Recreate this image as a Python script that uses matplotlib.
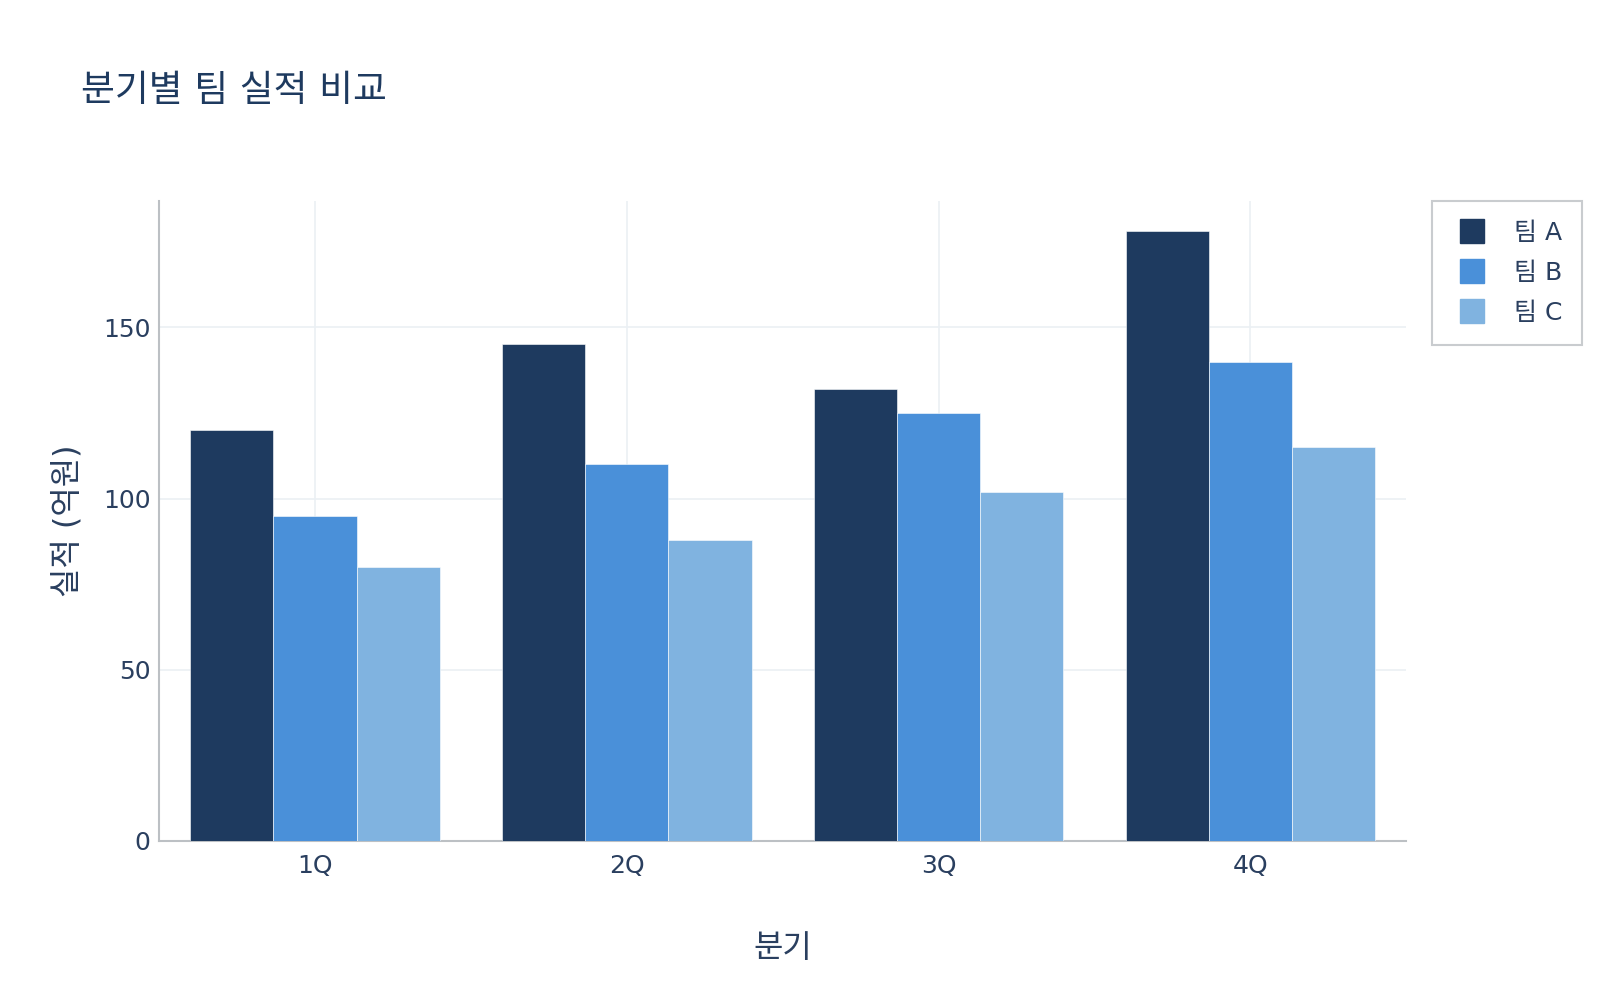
import numpy as np
import matplotlib.pyplot as plt
from matplotlib.lines import Line2D

plt.rcParams['font.family'] = ['DejaVu Sans', 'Noto Sans CJK KR']

'''
Daten
'''
quarters = ['1Q', '2Q', '3Q', '4Q']
team_a = [120, 145, 132, 178]
team_b = [95, 110, 125, 140]
team_c = [80, 88, 102, 115]
series_names = ['팀 A', '팀 B', '팀 C']
colors = ['#1e3a5f', '#4a90d9', '#80b3e0']

text_color = '#2a3f5f'
grid_color = '#ebf0f4'
axis_color = '#bcc0c4'

'''
Plot
'''
fig = plt.figure(figsize=(16, 10), dpi=100)
ax = fig.add_axes([0.0994, 0.159, 0.7796, 0.640])

x = np.arange(len(quarters))
width = 0.8 / 3
for i, (vals, name, c) in enumerate(zip([team_a, team_b, team_c], series_names, colors)):
    ax.bar(x + (i - 1) * width, vals, width, color=c, label=name,
           edgecolor='white', linewidth=0.4, zorder=3)

ax.set_xlim(-0.5, len(quarters) - 0.5)
ax.set_ylim(0, max(team_a) * 1.05)
ax.set_xticks(x)
ax.set_xticklabels(quarters)
ax.set_yticks([0, 50, 100, 150])

ax.grid(True, color=grid_color, linewidth=1.2, zorder=0)
ax.tick_params(axis='both', length=0, labelsize=18, labelcolor=text_color)
ax.tick_params(axis='x', pad=9)
ax.tick_params(axis='y', pad=6)
for side in ['top', 'right']:
    ax.spines[side].set_visible(False)
for side in ['left', 'bottom']:
    ax.spines[side].set_color(axis_color)
    ax.spines[side].set_linewidth(1.5)

ax.set_xlabel('분기', fontsize=23, color=text_color, labelpad=40)
ax.set_ylabel('실적 (억원)', fontsize=23, color=text_color, labelpad=14)

fig.text(0.0505, 0.909, '분기별 팀 실적 비교', fontsize=26.5, color='#1e3a5f',
         ha='left', va='center')

# Legende mit quadratischen Markern
handles = [Line2D([], [], marker='s', linestyle='none', markersize=17,
                  markerfacecolor=c, markeredgecolor=c) for c in colors]
leg = ax.legend(handles, series_names, loc='upper left', bbox_to_anchor=(1.0205, 1.0),
                fontsize=18, frameon=True, fancybox=False, handlelength=1.6,
                handletextpad=0.88, borderpad=0.8, labelspacing=0.64,
                labelcolor=text_color, borderaxespad=0)
leg.get_frame().set_edgecolor(axis_color)
leg.get_frame().set_linewidth(1.5)

plt.savefig('out.png', dpi=100)
